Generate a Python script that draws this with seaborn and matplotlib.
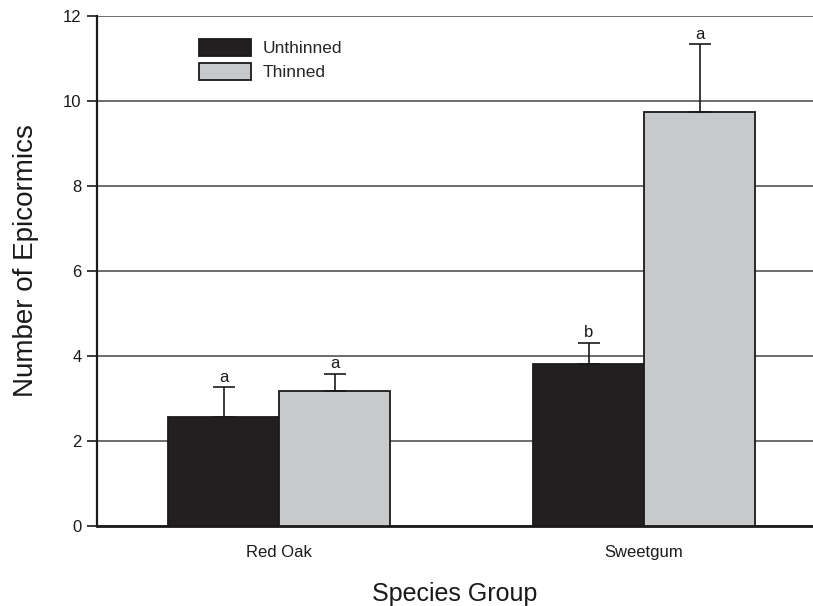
import matplotlib
matplotlib.use("Agg")
import matplotlib.pyplot as plt
import seaborn as sns
import pandas as pd
import numpy as np

species = ["Red Oak", "Sweetgum"]
treatments = ["Unthinned", "Thinned"]
unthinned_means = [2.55, 3.80]
thinned_means = [3.17, 9.74]
unthinned_err = [0.71, 0.51]
thinned_err = [0.41, 1.59]
unthinned_letters = ["a", "b"]
thinned_letters = ["a", "a"]
y_ticks = [0, 2, 4, 6, 8, 10, 12]

sns.set_theme(style="white")
plt.rcParams['font.family'] = ['Liberation Sans', 'DejaVu Sans']

df = pd.DataFrame({
    "Species": species * 2,
    "Treatment": [treatments[0]] * 2 + [treatments[1]] * 2,
    "Mean": unthinned_means + thinned_means,
    "Err": unthinned_err + thinned_err,
    "Letter": unthinned_letters + thinned_letters,
})

fig = plt.figure(figsize=(8.13, 6.06), dpi=100)
ax = fig.add_axes([97 / 813, 1 - 525.7 / 606, 1 - 97 / 813, (525.7 - 15.7) / 606])

sns.barplot(data=df, x="Species", y="Mean", hue="Treatment", hue_order=treatments,
            palette={"Unthinned": "#231f20", "Thinned": "#c8c9cb"},
            width=0.608, gap=0, errorbar=None, saturation=1,
            edgecolor="#1a1a1a", linewidth=1.3, ax=ax, zorder=3)

# error bars and letters using bar geometry
for ti, t in enumerate(treatments):
    cont = ax.containers[ti]
    sub = df[df["Treatment"] == t].reset_index(drop=True)
    for bi, bar in enumerate(cont):
        xc = bar.get_x() + bar.get_width() / 2
        m = sub.loc[bi, "Mean"]
        e = sub.loc[bi, "Err"]
        ax.errorbar([xc], [m], yerr=[[0], [e]], fmt="none", ecolor="#1a1a1a",
                    elinewidth=1.2, capsize=8, capthick=1.2, zorder=4)
        ax.text(xc, m + e + 0.06, sub.loc[bi, "Letter"], ha="center", va="bottom",
                fontsize=12, color="#1a1a1a")

ax.set_xlim(-0.499, 1.463)
ax.set_ylim(0, 12)
ax.set_yticks(y_ticks)
ax.yaxis.grid(True, color="#444444", linewidth=1.1, zorder=0)
ax.set_axisbelow(True)
for s in ["top", "right"]:
    ax.spines[s].set_visible(False)
ax.spines["left"].set_color("#1a1a1a")
ax.spines["left"].set_linewidth(1.6)
ax.spines["bottom"].set_color("#1a1a1a")
ax.spines["bottom"].set_linewidth(2.0)
ax.tick_params(axis="y", left=True, length=7, width=1.2, color="#1a1a1a",
               labelsize=12, pad=4, labelcolor="#1a1a1a")
ax.tick_params(axis="x", bottom=False, labelsize=12, pad=8, labelcolor="#1a1a1a")

ax.set_xlabel("Species Group", fontsize=18, labelpad=16, color="#1a1a1a")
ax.set_ylabel("Number of Epicormics", fontsize=20, color="#1a1a1a")
ax.yaxis.set_label_coords(-0.081, 0.52)

leg = ax.legend(loc="upper left", bbox_to_anchor=(0.12, 0.985), frameon=False,
                fontsize=12.5, handlelength=3.0, handleheight=1.1, labelspacing=0.4,
                handletextpad=0.7)
for h in leg.legend_handles:
    h.set_edgecolor("#1a1a1a")
    h.set_linewidth(1.3)

fig.savefig("out.png", dpi=100)
